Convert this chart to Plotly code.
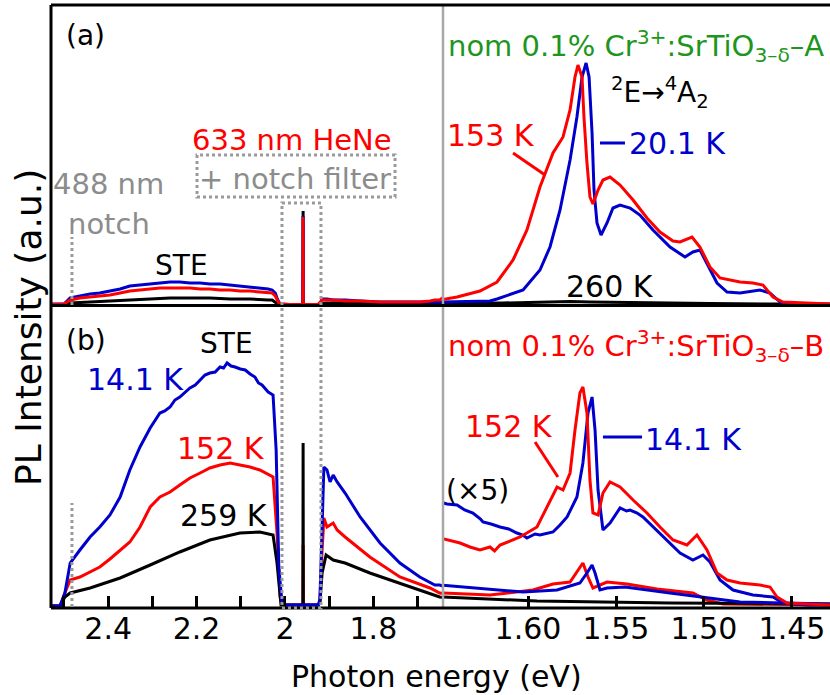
import plotly.graph_objects as go

# ---------------- spectra (photon energy in eV, PL intensity in a.u.) ----------------
# Panel (a): nom 0.1% Cr3+:SrTiO3-δ-A
a_e_20K = [2.529, 2.500, 2.486, 2.464, 2.441, 2.419, 2.396, 2.373, 2.351, 2.328, 2.305, 2.283,
           2.260, 2.238, 2.215, 2.192, 2.170, 2.147, 2.124, 2.102, 2.079, 2.057, 2.038, 2.029,
           2.022, 2.018, 2.014, 2.009, 1.990, 1.9595, 1.9590, 1.9585, 1.925, 1.919, 1.916, 1.905,
           1.891, 1.864, 1.830, 1.785, 1.740, 1.695, 1.672,
           1.6500, 1.6216, 1.6176, 1.6028, 1.5932, 1.5875, 1.5818, 1.5761, 1.5722, 1.5693,
           1.5670, 1.5653, 1.5636, 1.5625, 1.5608, 1.5585, 1.5551, 1.5517, 1.5477, 1.5420,
           1.5364, 1.5290, 1.5193, 1.5108, 1.5063, 1.5023, 1.4983, 1.4926, 1.4869, 1.4795,
           1.4682, 1.4625, 1.4568, 1.4528, 1.4284]
a_i_20K = [1, 1, 7, 9, 11, 12, 14, 16, 19, 20, 21, 22,
           23, 23, 22, 22, 21, 21, 20, 19, 18, 17, 16, 15,
           12, 7, 3, 1, 0.5, 0.5, 89, 0.5, 0.5, 3, 6, 6,
           5, 5, 4, 3, 3, 3, 3,
           3, 4, 6, 15, 35, 58, 95, 145, 188, 228,
           242, 228, 172, 115, 82, 70, 82, 97, 100, 97,
           90, 75, 58, 48, 53, 55, 42, 22, 13, 12,
           15, 12, 3, 1, 0.5]

a_e_153K = [2.529, 2.500, 2.486, 2.464, 2.441, 2.419, 2.396, 2.373, 2.351, 2.328, 2.305, 2.283,
            2.260, 2.238, 2.215, 2.192, 2.170, 2.147, 2.124, 2.102, 2.079, 2.057, 2.038, 2.029,
            2.022, 2.018, 2.014, 2.009, 1.990, 1.9595, 1.9590, 1.9585, 1.925, 1.919, 1.916, 1.905,
            1.891, 1.864, 1.830, 1.785, 1.740, 1.695, 1.672, 1.661,
            1.6500, 1.6403, 1.6273, 1.6176, 1.6085, 1.6006, 1.5932, 1.5858, 1.5801, 1.5761,
            1.5733, 1.5716, 1.5693, 1.5682, 1.5665, 1.5648, 1.5631, 1.5602, 1.5574, 1.5534,
            1.5477, 1.5403, 1.5324, 1.5250, 1.5176, 1.5136, 1.5068, 1.5023, 1.4966, 1.4909,
            1.4795, 1.4722, 1.4665, 1.4608, 1.4551, 1.4284]
a_i_153K = [0.5, 1, 5, 7, 8, 9, 10, 12, 14, 15, 16, 17,
            17, 17, 17, 16, 16, 15, 15, 14, 14, 13, 12, 12,
            9, 5, 2, 1, 0.5, 0.5, 88, 0.5, 0.5, 3, 5, 5,
            5, 4, 4, 3, 3, 3, 4, 5,
            5, 8, 14, 23, 45, 75, 118, 152, 168, 195,
            228, 240, 228, 188, 142, 108, 101, 115, 125, 128,
            120, 105, 87, 73, 64, 63, 68, 58, 38, 27,
            23, 22, 20, 8, 3, 1]

a_e_260K = [2.529, 2.500, 2.486, 2.441, 2.396, 2.351, 2.305, 2.260, 2.215, 2.170, 2.124, 2.079,
            2.038, 2.029, 2.020, 2.012, 1.962, 1.9595, 1.9590, 1.9585, 1.925, 1.919, 1.905,
            1.830, 1.740, 1.6483, 1.6142, 1.5875, 1.5761, 1.5648, 1.5477, 1.5290, 1.4966,
            1.4625, 1.4284]
a_i_260K = [0.5, 0.5, 2, 3, 4, 5, 6, 7, 7, 7, 6, 6,
            5, 5, 2, 0.5, 0.5, 0.5, 94, 0.5, 0.5, 1.5, 2,
            2, 1.5, 1.5, 2, 3, 3.5, 3, 2.5, 2, 1.5,
            1, 1]

# Panel (b): nom 0.1% Cr3+:SrTiO3-δ-B
b_e_14K = [2.529, 2.509, 2.498, 2.486, 2.464, 2.441, 2.419, 2.396, 2.373, 2.351, 2.328, 2.305,
           2.283, 2.272, 2.260, 2.249, 2.238, 2.226, 2.215, 2.203, 2.192, 2.181, 2.170, 2.158,
           2.147, 2.139, 2.131, 2.122, 2.113, 2.101, 2.090, 2.079, 2.068, 2.060, 2.052,
           2.038, 2.027, 2.020, 2.014, 2.007, 2.000, 1.925, 1.921, 1.916, 1.912, 1.905, 1.898,
           1.891, 1.882, 1.864, 1.830, 1.785, 1.740, 1.695, 1.661,
           1.6500, 1.6313, 1.6028, 1.5835, 1.5705, 1.5665, 1.5636, 1.5619, 1.5591, 1.5551,
           1.5449, 1.5193, 1.4983, 1.4795, 1.4284]
b_i_14K = [1, 1, 14, 44, 57, 70, 80, 92, 110, 137, 160, 179,
           194, 196, 200, 207, 210, 215, 219, 222, 227, 232, 234, 235,
           240, 239, 244, 241, 240, 238, 237, 233, 230, 224, 222,
           215, 212, 157, 40, 5, 2, 2, 7, 74, 140, 137, 125,
           132, 125, 114, 90, 64, 44, 30, 22,
           22, 19, 15, 17, 24, 34, 42, 34, 17, 19,
           20, 14, 9, 5, 3]

b_e_152K = [2.529, 2.509, 2.498, 2.486, 2.464, 2.441, 2.419, 2.396, 2.373, 2.351, 2.328, 2.305,
            2.283, 2.260, 2.238, 2.215, 2.192, 2.170, 2.147, 2.124, 2.102, 2.079, 2.057, 2.045,
            2.027, 2.018, 2.011, 2.007, 2.000, 1.962, 1.9595, 1.9590, 1.9585, 1.925, 1.921,
            1.916, 1.912, 1.905, 1.891, 1.882, 1.864, 1.808, 1.740, 1.672,
            1.6500, 1.6216, 1.5972, 1.5858, 1.5761, 1.5705, 1.5688, 1.5659, 1.5631, 1.5551,
            1.5438, 1.5267, 1.5063, 1.4983, 1.4892, 1.4284]
b_i_152K = [1, 1, 14, 27, 30, 35, 40, 48, 57, 65, 80, 100,
            110, 115, 122, 129, 134, 139, 142, 144, 142, 140, 137, 134,
            130, 74, 10, 3, 2, 2, 2, 62, 2, 2, 5,
            57, 89, 80, 84, 77, 70, 50, 30, 19,
            14, 12, 17, 23, 25, 40, 44, 30, 19, 25,
            23, 18, 14, 7, 3, 2]

b_e_259K = [2.529, 2.509, 2.498, 2.486, 2.441, 2.373, 2.305, 2.238, 2.170, 2.102, 2.057, 2.027,
            2.018, 2.009, 1.962, 1.9595, 1.9590, 1.9585, 1.925, 1.921, 1.916, 1.907, 1.891,
            1.864, 1.808, 1.740, 1.672, 1.6500, 1.5949, 1.5193, 1.4284]
b_i_259K = [1, 1, 10, 14, 19, 29, 42, 55, 67, 74, 75, 72,
            44, 2, 2, 2, 164, 2, 2, 4, 34, 52, 47,
            44, 34, 24, 14, 10, 6, 4, 3]

# (×5) magnified Cr3+ emission, panel (b)
b_e_14K_x5 = [1.6500, 1.6460, 1.6403, 1.6360, 1.6313, 1.6270, 1.6256, 1.6210, 1.6159, 1.6110,
              1.6063, 1.6030, 1.6006, 1.5960, 1.5932, 1.5890, 1.5858, 1.5818, 1.5778, 1.5722,
              1.5688, 1.5659, 1.5636, 1.5619, 1.5602, 1.5574, 1.5534, 1.5477, 1.5440, 1.5420,
              1.5380, 1.5347, 1.5290, 1.5267, 1.5210, 1.5136, 1.5063, 1.5006, 1.4966, 1.4909,
              1.4835, 1.4722, 1.4608, 1.4551, 1.4415, 1.4284]
b_i_14K_x5 = [105, 103, 102, 97, 94, 88, 85, 83, 80, 78,
              74, 72, 69, 73, 72, 74, 75, 82, 90, 110,
              144, 194, 210, 177, 117, 77, 84, 99, 96, 97,
              94, 90, 80, 77, 67, 54, 47, 52, 45, 27,
              17, 12, 10, 4, 2, 2]

b_e_152K_x5 = [1.6500, 1.6386, 1.6330, 1.6273, 1.6216, 1.6190, 1.6159, 1.6045, 1.5949, 1.5875,
               1.5835, 1.5801, 1.5761, 1.5733, 1.5705, 1.5688, 1.5665, 1.5648, 1.5631, 1.5602,
               1.5574, 1.5534, 1.5477, 1.5403, 1.5324, 1.5250, 1.5176, 1.5097, 1.5040, 1.4983,
               1.4926, 1.4869, 1.4795, 1.4682, 1.4625, 1.4585, 1.4528, 1.4415, 1.4284]
b_i_152K_x5 = [69, 64, 60, 57, 60, 56, 62, 70, 80, 107,
               120, 117, 134, 177, 214, 220, 194, 127, 94, 92,
               114, 125, 120, 107, 94, 80, 67, 62, 72, 57,
               34, 27, 24, 22, 20, 10, 4, 3, 2]

# axis ticks
left_tickvals = [2.4, 2.2, 2.0, 1.8]
left_ticktext = ["2.4", "2.2", "2", "1.8"]
right_tickvals = [1.60, 1.55, 1.50, 1.45]
right_ticktext = ["1.60", "1.55", "1.50", "1.45"]

# ---------------- figure geometry ----------------
W, H = 830, 695
ML, MR, MT, MB = 51, 0, 5, 87
PW, PH = W - ML - MR, H - MT - MB
SPLIT_X = (443 - ML) / PW            # broken energy axis: left / right section
SPLIT_Y = (608 - 305.5) / PH         # panel (b) below, panel (a) above
LEFT_RANGE = [2.5294, 1.6425]
RIGHT_RANGE = [1.6483, 1.4284]

FONT = "DejaVu Sans"
RED, BLUE, BLACK, GRAY, GREEN = "#ff0000", "#0000cc", "#000000", "#8c8c8c", "#1e961e"


def px(X):
    return (X - ML) / PW


def py(Y):
    return (MT + PH - Y) / PH


fig = go.Figure()


def add_spectrum(e, i, color, panel, sections=("l", "r")):
    axes = {"a": {"l": ("x3", "y3"), "r": ("x4", "y4")},
            "b": {"l": ("x", "y"), "r": ("x2", "y2")}}[panel]
    for s in sections:
        xa, ya = axes[s]
        fig.add_trace(go.Scatter(x=e, y=i, mode="lines", xaxis=xa, yaxis=ya,
                                 line=dict(color=color, width=3), showlegend=False,
                                 hoverinfo="skip"))


add_spectrum(a_e_260K, a_i_260K, BLACK, "a")
add_spectrum(a_e_20K, a_i_20K, BLUE, "a")
add_spectrum(a_e_153K, a_i_153K, RED, "a")

add_spectrum(b_e_152K, b_i_152K, RED, "b")
add_spectrum(b_e_259K, b_i_259K, BLACK, "b")
add_spectrum(b_e_14K, b_i_14K, BLUE, "b")
add_spectrum(b_e_14K_x5, b_i_14K_x5, BLUE, "b", sections=("r",))
add_spectrum(b_e_152K_x5, b_i_152K_x5, RED, "b", sections=("r",))

hidden_y = dict(showticklabels=False, showgrid=False, zeroline=False, showline=False, ticks="")
tickfont = dict(family=FONT, size=30, color=BLACK)

fig.update_layout(
    width=W, height=H, margin=dict(l=ML, r=MR, t=MT, b=MB),
    paper_bgcolor="white", plot_bgcolor="white",
    xaxis=dict(domain=[0, SPLIT_X], range=LEFT_RANGE, anchor="y", tickmode="array",
               tickvals=left_tickvals, ticktext=left_ticktext, ticks="inside", ticklen=12,
               tickwidth=3, tickcolor=BLACK, tickfont=tickfont, showgrid=False,
               zeroline=False, showline=False,
               minor=dict(tickmode="linear", tick0=0, dtick=0.1, ticks="inside", ticklen=12,
                          tickwidth=3, tickcolor=BLACK, showgrid=False)),
    xaxis2=dict(domain=[SPLIT_X, 1], range=RIGHT_RANGE, anchor="y2", tickmode="array",
                tickvals=right_tickvals, ticktext=right_ticktext, ticks="inside", ticklen=12,
                tickwidth=3, tickcolor=BLACK, tickfont=tickfont, showgrid=False,
                zeroline=False, showline=False),
    xaxis3=dict(domain=[0, SPLIT_X], range=LEFT_RANGE, anchor="y3", showticklabels=False,
                ticks="", showgrid=False, zeroline=False, showline=False),
    xaxis4=dict(domain=[SPLIT_X, 1], range=RIGHT_RANGE, anchor="y4", showticklabels=False,
                ticks="", showgrid=False, zeroline=False, showline=False),
    yaxis=dict(domain=[0, SPLIT_Y], range=[-1, 301.5], anchor="x", **hidden_y),
    yaxis2=dict(domain=[0, SPLIT_Y], range=[-1, 301.5], anchor="x2", **hidden_y),
    yaxis3=dict(domain=[SPLIT_Y, 1], range=[-0.5, 300], anchor="x3", **hidden_y),
    yaxis4=dict(domain=[SPLIT_Y, 1], range=[-0.5, 300], anchor="x4", **hidden_y),
)

# ---------------- frame, section divider, notch markers ----------------
frame = dict(color=BLACK, width=3)
shapes = [
    dict(type="line", xref="paper", yref="paper", x0=SPLIT_X, x1=SPLIT_X, y0=0, y1=1,
         line=dict(color="#a8a8a8", width=2.5)),
    dict(type="line", xref="paper", yref="paper", x0=0, x1=0, y0=0, y1=1, line=frame),
    dict(type="line", xref="paper", yref="paper", x0=0, x1=1, y0=1, y1=1, line=frame),
    dict(type="line", xref="paper", yref="paper", x0=0, x1=1, y0=0, y1=0, line=frame),
    dict(type="line", xref="paper", yref="paper", x0=0, x1=1, y0=SPLIT_Y, y1=SPLIT_Y,
         line=frame),
]
dot = dict(color="#9a9a9a", width=3, dash="dot")
shapes += [
    # "+ notch filter" box
    dict(type="rect", xref="x3", yref="y3", x0=2.199, x1=1.751, y0=108, y1=150, line=dot),
    # 633 nm notch-filter window through both panels
    dict(type="rect", xref="x", yref="paper", x0=2.0068, x1=1.9186, y0=0, y1=py(203),
         line=dot),
    # 488 nm notch edge
    dict(type="line", xref="x3", yref="y3", x0=2.482, x1=2.482, y0=0, y1=68, line=dot),
    dict(type="line", xref="x", yref="y", x0=2.482, x1=2.482, y0=0, y1=104, line=dot),
    # label leaders
    dict(type="line", xref="x4", yref="y4", x0=1.6085, x1=1.5903, y0=152, y1=130,
         line=dict(color=RED, width=3)),
    dict(type="line", xref="x4", yref="y4", x0=1.5591, x1=1.5449, y0=162, y1=162,
         line=dict(color=BLUE, width=3)),
    dict(type="line", xref="x2", yref="y2", x0=1.5960, x1=1.5830, y0=165, y1=130,
         line=dict(color=RED, width=3)),
    dict(type="line", xref="x2", yref="y2", x0=1.5574, x1=1.5352, y0=170, y1=170,
         line=dict(color=BLUE, width=3)),
]
fig.update_layout(shapes=shapes)

# ---------------- text ----------------
def label(text, X, Y, color=BLACK, size=29, anchor="center"):
    fig.add_annotation(text=text, x=px(X), y=py(Y), xref="paper", yref="paper",
                       xanchor=anchor, yanchor="middle", showarrow=False,
                       font=dict(family=FONT, size=size, color=color))


label("(a)", 85, 36, size=28)
label("633 nm HeNe", 292, 140, RED)
label("+ notch filter", 295, 179, GRAY)
label("488 nm", 108, 184, GRAY)
label("notch", 109, 224, GRAY)
label("STE", 181, 265, size=28)
label("nom 0.1% Cr<sup>3+</sup>:SrTiO<sub>3–δ</sub>–A", 446, 46, GREEN, size=29,
      anchor="left")
label("<sup>2</sup>E→<sup>4</sup>A<sub>2</sub>", 660, 92, size=28)
label("153 K", 491, 135, RED, size=30)
label("20.1 K", 677, 144, BLUE, size=30)
label("260 K", 610, 286, size=30)

label("(b)", 86, 340, size=28)
label("STE", 226, 343, size=28)
label("14.1 K", 135, 380, BLUE, size=30)
label("152 K", 221, 448, RED, size=30)
label("259 K", 224, 515, size=30)
label("nom 0.1% Cr<sup>3+</sup>:SrTiO<sub>3–δ</sub>–B", 446, 346, RED, size=29,
      anchor="left")
label("152 K", 509, 426, RED, size=30)
label("14.1 K", 693, 439, BLUE, size=30)
label("(×5)", 478, 490, size=28)

label("Photon energy (eV)", 436, 676, size=30)
fig.add_annotation(text="PL Intensity (a.u.)", x=px(28), y=py(328), xref="paper",
                   yref="paper", xanchor="center", yanchor="middle", showarrow=False,
                   textangle=-90, font=dict(family=FONT, size=36, color=BLACK))

fig.write_html("out.html")
